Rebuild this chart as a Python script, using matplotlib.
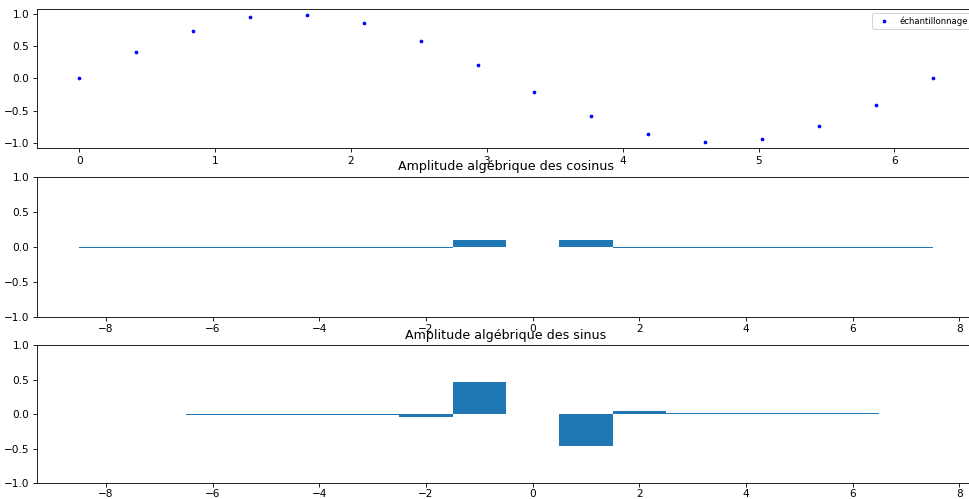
import matplotlib
matplotlib.use("Agg")
import matplotlib.pyplot as plt
import numpy as np

# échantillons (t, sin t)
t_ech = [0.0, 0.419, 0.838, 1.257, 1.676, 2.094, 2.513, 2.932,
         3.351, 3.770, 4.189, 4.608, 5.027, 5.445, 5.864, 6.283]
y_ech = [0.0, 0.41, 0.74, 0.95, 0.99, 0.87, 0.59, 0.21,
         -0.21, -0.59, -0.87, -0.99, -0.95, -0.74, -0.41, 0.0]

# amplitudes des cosinus (pas de barre en 0)
freq_cos = [-8, -7, -6, -5, -4, -3, -2, -1, 1, 2, 3, 4, 5, 6, 7]
amp_cos = [-0.01, -0.01, -0.01, -0.01, -0.01, -0.01, -0.01, 0.1,
           0.1, -0.01, -0.01, -0.01, -0.01, -0.01, -0.01]

# amplitudes des sinus
freq_sin = [-6, -5, -4, -3, -2, -1, 1, 2, 3, 4, 5, 6]
amp_sin = [-0.01, -0.01, -0.012, -0.018, -0.04, 0.47,
           -0.47, 0.045, 0.022, 0.015, 0.012, 0.012]

DPI = 76
fig = plt.figure(figsize=(969 / DPI, 499 / DPI), dpi=DPI)
W = 0.969  # l'image d'origine est rognée à droite
ax1 = fig.add_axes([0.0377, 0.7028, W, 0.280])
ax2 = fig.add_axes([0.0377, 0.3647, W, 0.2812])
ax3 = fig.add_axes([0.0377, 0.0321, W, 0.2759])

ax1.plot(t_ech, y_ech, '.', color='blue', markersize=5, label='échantillonnage')
ax1.legend(loc='upper right', fontsize=8)

ax2.bar(freq_cos, amp_cos, width=1)
ax2.set_ylim(-1, 1)
ax2.set_title('Amplitude algébrique des cosinus')

ax3.bar(freq_sin, amp_sin, width=1)
ax3.set_ylim(-1, 1)
ax3.set_xlim(ax2.get_xlim())
ax3.set_title('Amplitude algébrique des sinus')
ax3.tick_params(axis='x', pad=2.5)

fig.savefig('out.png', dpi=DPI)
